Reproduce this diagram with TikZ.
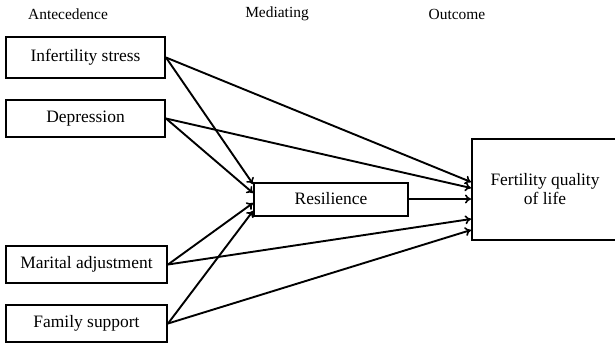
\documentclass[tikz,border=0pt]{standalone}
\usepackage{fontspec}
\setmainfont{Liberation Serif}
\usetikzlibrary{arrows.meta}
\tikzset{
  box/.style={draw, line width=2bp, align=center, inner sep=2bp, font=\fontsize{17.5}{19}\selectfont},
  head/.style={font=\fontsize{15.5}{17}\selectfont},
  path/.style={line width=1.9bp, -{To[length=6bp,width=9bp,line width=1.6bp]}}
}
\begin{document}
\begin{tikzpicture}[x=1bp, y=-1bp]
\useasboundingbox (0,0) rectangle (615,347);
\node[head]   (antecedence)        at ( 68,14) {Antecedence};
\node[head]   (mediating)          at (277,14) {Mediating};
\node[head]   (outcome)            at (457,14) {Outcome};
\node[box, minimum width=159bp, minimum height=41bp] (infertilityStress) at ( 85.5, 57.5) {Infertility stress};
\node[box, minimum width=159bp, minimum height=37bp] (depression)        at ( 85.5,118.5) {Depression};
\node[box, minimum width=161bp, minimum height=37bp] (maritalAdjustment) at ( 86.5,264.5) {Marital adjustment};
\node[box, minimum width=161bp, minimum height=37bp] (familySupport)     at ( 86.5,323.5) {Family support};
\node[box, minimum width=154bp, minimum height=33bp] (resilience)        at (331,199) {Resilience};
\node[box, minimum width=146bp, minimum height=101bp] (fertilityQoL)     at (545,189) {Fertility quality\\ of life};

\draw[path] (infertilityStress.east) -- ([yshift=15bp]resilience.west);
\draw[path] (depression.east)        -- ([yshift=6bp]resilience.west);
\draw[path] (maritalAdjustment.east) -- ([yshift=-4bp]resilience.west);
\draw[path] (familySupport.east)     -- ([yshift=-12bp]resilience.west);
\draw[path] (infertilityStress.east) -- ([yshift=7bp]fertilityQoL.west);
\draw[path] (depression.east)        -- ([yshift=1bp]fertilityQoL.west);
\draw[path] (resilience.east)        -- ([yshift=-10bp]fertilityQoL.west);
\draw[path] (maritalAdjustment.east) -- ([yshift=-30bp]fertilityQoL.west);
\draw[path] (familySupport.east)     -- ([yshift=-41bp]fertilityQoL.west);
\end{tikzpicture}
\end{document}
